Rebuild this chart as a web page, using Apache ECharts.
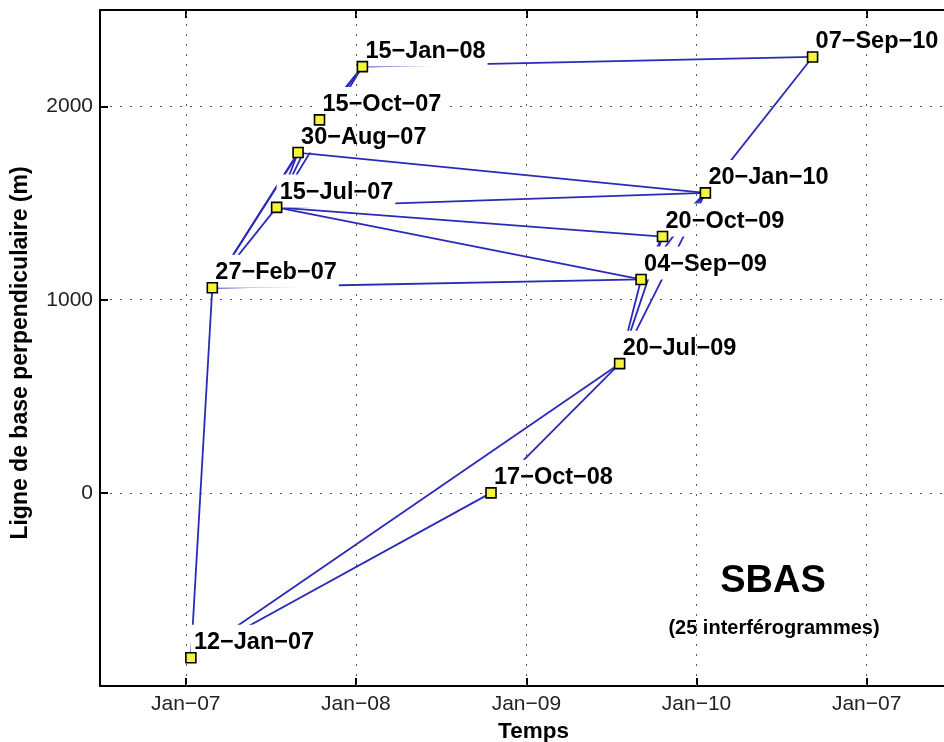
<!DOCTYPE html>
<html>
<head>
<meta charset="utf-8">
<title>SBAS – réseau d'interférogrammes</title>
<script src="https://cdn.jsdelivr.net/npm/echarts@6/dist/echarts.min.js"></script>
<style>
  html, body { margin: 0; padding: 0; background: #fff; }
  #chart { width: 944px; height: 742px; }
</style>
</head>
<body>
<div id="chart"></div>
<script>
// Acquisition dates and their perpendicular baselines (m)
const acqDates = ['2007-01-12', '2007-02-27', '2007-07-15', '2007-08-30', '2007-10-15', '2008-01-15',
                  '2008-10-17', '2009-07-20', '2009-09-04', '2009-10-20', '2010-01-20', '2010-09-07'];
const acqLabels = ['12-Jan-07', '27-Feb-07', '15-Jul-07', '30-Aug-07', '15-Oct-07', '15-Jan-08',
                   '17-Oct-08', '20-Jul-09', '04-Sep-09', '20-Oct-09', '20-Jan-10', '07-Sep-10'];
const baselines = [-854, 1062, 1478, 1762, 1931, 2207, 0, 669, 1105, 1327, 1553, 2257];

// Interferometric pairs (indices into the acquisition arrays)
const pairs = [
  [0, 1], [0, 6], [0, 7],
  [1, 2], [1, 3], [1, 4], [1, 8],
  [2, 3], [2, 4], [2, 5], [2, 8], [2, 9], [2, 10],
  [3, 5], [3, 10],
  [4, 5],
  [5, 11],
  [6, 7],
  [7, 8], [7, 9], [7, 10],
  [8, 9], [8, 10],
  [9, 10],
  [10, 11]
];

// Time axis ticks (labels as printed on the axis)
const xTickDates = ['2007-01-01', '2008-01-01', '2009-01-01', '2010-01-01', '2011-01-01'];
const xTickLabels = ['Jan-07', 'Jan-08', 'Jan-09', 'Jan-10', 'Jan-07'];
const xRange = ['2006-07-01', '2011-07-01'];
const yTicks = [0, 1000, 2000];
const yRange = [-1000, 2500];

const toMs = s => { const [y, m, d] = s.split('-').map(Number); return Date.UTC(y, m - 1, d); };
const dash = s => s.replace(/-/g, '\u2212');

const t = acqDates.map(toMs);
const xTickValues = xTickDates.map(toMs);
const nodes = t.map((v, i) => [v, baselines[i]]);

const FONT = "'Liberation Sans', Arial, Helvetica, sans-serif";
const BLUE = '#2a2ab8';
const gridDots = { color: '#555', width: 1, type: [2, 8] };
const frame = { show: true, onZero: false, lineStyle: { color: '#000', width: 2 } };

const chart = echarts.init(document.getElementById('chart'), null, { renderer: 'canvas' });

chart.setOption({
  animation: false,
  backgroundColor: '#fff',
  grid: { left: 100, top: 10, width: 851, height: 676, containLabel: false, outerBoundsMode: 'none' },
  xAxis: [
    {
      type: 'value',
      min: toMs(xRange[0]),
      max: toMs(xRange[1]),
      position: 'bottom',
      name: 'Temps',
      nameLocation: 'middle',
      nameGap: 31,
      nameTextStyle: { fontFamily: FONT, fontSize: 22.5, fontWeight: 'bold', color: '#000',
                       padding: [0, 0, 0, 16] },
      axisLine: frame,
      axisTick: { show: true, inside: true, length: 8, customValues: xTickValues,
                  lineStyle: { color: '#000', width: 2 } },
      axisLabel: {
        show: true, margin: 8, customValues: xTickValues,
        fontFamily: FONT, fontSize: 21, color: '#222',
        formatter: v => dash(xTickLabels[xTickValues.indexOf(v)] || '')
      },
      splitLine: { show: false }
    },
    {
      type: 'value',
      min: toMs(xRange[0]),
      max: toMs(xRange[1]),
      position: 'top',
      axisLine: frame,
      axisTick: { show: true, inside: true, length: 8, customValues: xTickValues,
                  lineStyle: { color: '#000', width: 2 } },
      axisLabel: { show: false },
      splitLine: { show: false }
    }
  ],
  yAxis: {
    type: 'value',
    min: yRange[0],
    max: yRange[1],
    interval: 1000,
    name: 'Ligne de base perpendiculaire (m)',
    nameLocation: 'middle',
    nameGap: 68,
    nameTextStyle: { fontFamily: FONT, fontSize: 23, fontWeight: 'bold', color: '#000',
                     padding: [0, 10, 0, 0] },
    axisLine: frame,
    axisTick: { show: true, inside: true, length: 8, customValues: yTicks,
                lineStyle: { color: '#000', width: 2 } },
    axisLabel: { show: true, margin: 7, customValues: yTicks,
                 fontFamily: FONT, fontSize: 21, color: '#222',
                 formatter: v => String(v) },
    splitLine: { show: true, lineStyle: gridDots }
  },
  series: [
    {
      // vertical dotted grid at each time tick
      type: 'line',
      data: [],
      z: 1,
      silent: true,
      markLine: {
        silent: true,
        symbol: ['none', 'none'],
        label: { show: false },
        lineStyle: gridDots,
        emphasis: { disabled: true },
        data: xTickValues.map(v => ({ xAxis: v }))
      }
    },
    {
      // interferogram links
      type: 'lines',
      coordinateSystem: 'cartesian2d',
      z: 2,
      silent: true,
      lineStyle: { color: BLUE, width: 1.8, opacity: 1 },
      data: pairs.map(([i, j]) => ({ coords: [nodes[i], nodes[j]] }))
    },
    {
      // date labels with opaque background
      type: 'scatter',
      z: 3,
      silent: true,
      symbol: 'rect',
      symbolSize: 10,
      itemStyle: { color: 'rgba(0,0,0,0)', opacity: 1 },
      label: {
        show: true,
        opacity: 1,
        position: [5, 5],
        align: 'left',
        verticalAlign: 'bottom',
        formatter: p => dash(acqLabels[p.dataIndex]),
        fontFamily: FONT,
        fontSize: 23.5,
        fontWeight: 'bold',
        color: '#000',
        backgroundColor: '#fff',
        padding: [6, 2, 3, 3]
      },
      data: nodes
    },
    {
      // acquisitions
      type: 'scatter',
      z: 4,
      symbol: 'rect',
      symbolSize: 10,
      itemStyle: { color: '#f4f43c', borderColor: '#000', borderWidth: 1.6, opacity: 1 },
      data: nodes
    }
  ],
  graphic: [
    {
      type: 'text', x: 773, y: 582, z: 10,
      style: { text: 'SBAS', fill: '#000', font: `bold 38px ${FONT}`,
               textAlign: 'center', textVerticalAlign: 'middle' }
    },
    {
      type: 'text', x: 774, y: 628, z: 10,
      style: { text: `(${pairs.length} interférogrammes)`, fill: '#000', font: `bold 20px ${FONT}`,
               textAlign: 'center', textVerticalAlign: 'middle' }
    }
  ]
});
</script>
</body>
</html>
